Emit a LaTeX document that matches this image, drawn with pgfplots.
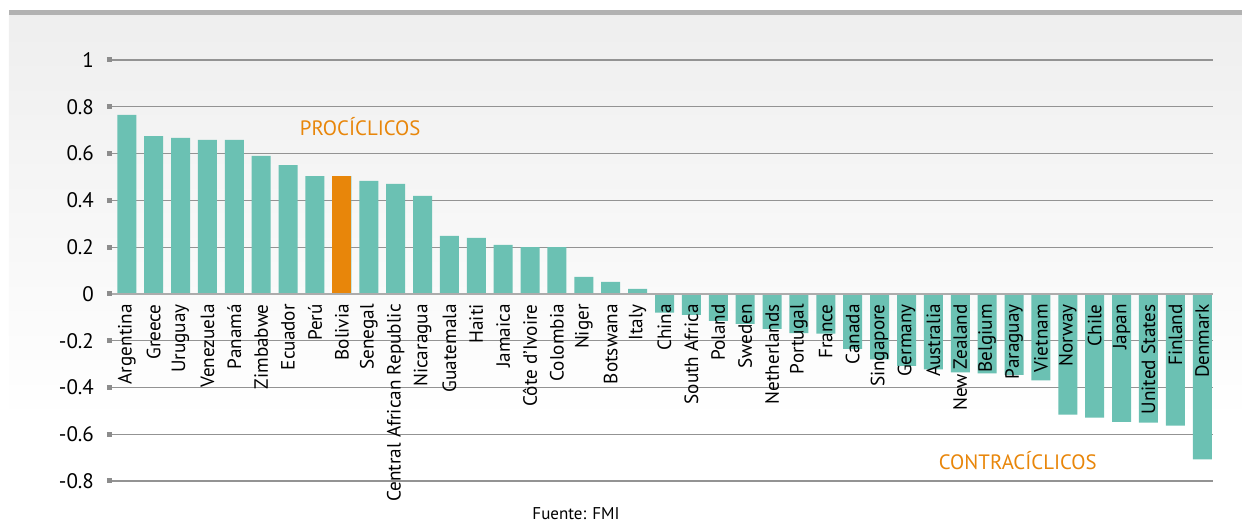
\documentclass[border=0pt]{standalone}
\usepackage{fontspec}
\setmainfont{PT Sans}
\usepackage{pgfplots}
\usepackage{pgfplotstable}
\pgfplotsset{compat=1.18}
\definecolor{barteal}{HTML}{6BC1B3}
\definecolor{barorange}{HTML}{E8860A}
\pgfplotstableread{
x y
0 0.765
1 0.675
2 0.667
3 0.658
4 0.658
5 0.590
6 0.551
7 0.504
8 0.504
9 0.483
10 0.470
11 0.419
12 0.248
13 0.240
14 0.210
15 0.200
16 0.200
17 0.073
18 0.051
19 0.021
20 -0.080
21 -0.090
22 -0.115
23 -0.128
24 -0.150
25 -0.168
26 -0.170
27 -0.235
28 -0.280
29 -0.308
30 -0.323
31 -0.336
32 -0.340
33 -0.346
34 -0.370
35 -0.516
36 -0.529
37 -0.547
38 -0.550
39 -0.563
40 -0.708
}\datatable
\pgfplotsset{common/.style={
  at={(0,0)}, anchor=south west,
  scale only axis, width=550.5pt, height=210.5pt,
  xmin=-0.55, xmax=40.4, ymin=-0.8, ymax=1, clip=false}}
\begin{document}
\begin{tikzpicture}
\useasboundingbox (-56pt,-21.5pt) rectangle (565pt,240.5pt);
\fill[top color=gray!13, bottom color=white] (-51.5pt,30pt) rectangle (565pt,233pt);
\fill[gray!60] (-51.5pt,233pt) rectangle (565pt,235.5pt);
% grid and y axis
\begin{axis}[
  common,
  axis x line=none, axis y line=left,
  y axis line style={draw=none},
  ytick={-0.8,-0.6,-0.4,-0.2,0,0.2,0.4,0.6,0.8,1},
  ymajorgrids, grid style={gray!85, line width=0.6pt},
  y tick style={gray!90, line width=2.5pt},
  major tick length=2.5pt, tick align=outside,
  yticklabel style={font=\fontsize{10.5}{12}\selectfont, xshift=-3pt},
  /pgf/number format/assume math mode=true,
]
\end{axis}
% bars, zero line and country labels
\begin{axis}[
  common,
  axis on top,
  axis x line=middle, axis y line=none,
  x axis line style={-, draw=gray!65, line width=1pt},
  ytick=\empty,
  xtick={0,...,40},
  x tick style={draw=none},
  major tick length=0pt,
  xticklabels={Argentina,Greece,Uruguay,Venezuela,Panamá,Zimbabwe,Ecuador,Perú,Bolivia,Senegal,Central African Republic,Nicaragua,Guatemala,Haiti,Jamaica,Côte d’Ivoire,Colombia,Niger,Botswana,Italy,China,South Africa,Poland,Sweden,Netherlands,Portugal,France,Canada,Singapore,Germany,Australia,New Zealand,Belgium,Paraguay,Vietnam,Norway,Chile,Japan,United States,Finland,Denmark},
  xticklabel style={yshift=-5pt, rotate=90, anchor=east, font=\fontsize{9.6}{10}\selectfont, inner sep=0pt},
]
\addplot[ybar, bar width=9.5pt, bar shift=0pt, fill=barteal, draw=none] table[x=x,y=y]{\datatable};
\addplot[ybar, bar width=9.5pt, bar shift=0pt, fill=barorange, draw=none] coordinates {(8,0.504)};
\node[text=barorange, font=\fontsize{10.4}{12}\selectfont] at (axis cs:8.68,0.714) {PROCÍCLICOS};
\node[text=barorange, font=\fontsize{10.4}{12}\selectfont] at (axis cs:33.14,-0.714) {CONTRACÍCLICOS};
\end{axis}
\node[font=\fontsize{8.5}{10}\selectfont, inner sep=0pt] at (232pt,-16.5pt) {Fuente: FMI};
\end{tikzpicture}
\end{document}
